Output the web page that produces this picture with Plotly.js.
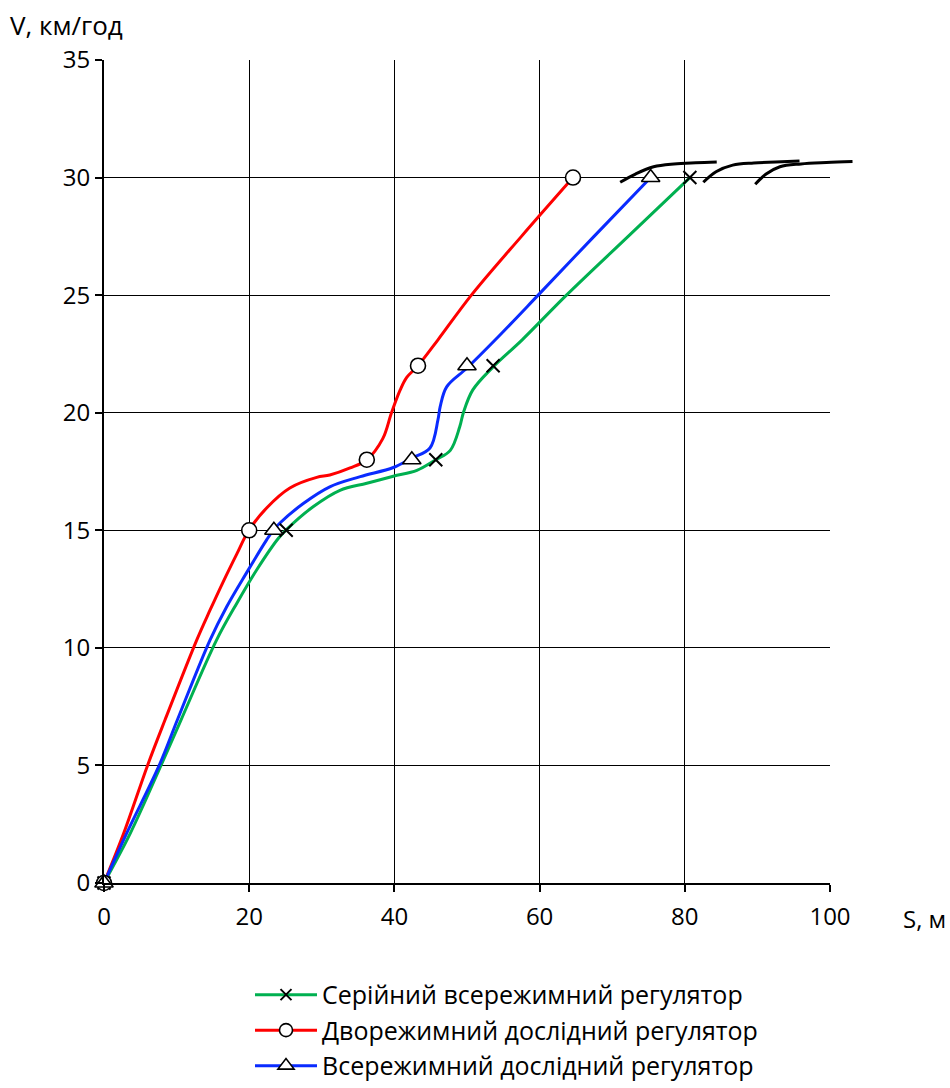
<!DOCTYPE html>
<html>
<head>
<meta charset="utf-8">
<script src="https://cdn.plot.ly/plotly-3.0.1.min.js"></script>
<style>body{margin:0;background:#fff;} #chart{width:950px;height:1088px;}</style>
</head>
<body>
<div id="chart"></div>
<script>
// ---- data ----
const seriesNames = ['Серійний всережимний регулятор', 'Дворежимний дослідний регулятор', 'Всережимний дослідний регулятор'];

// curve points (S, m ; V, km/h)
const greenS = [0, 3.6, 7.85, 10.6, 15.5, 18.3, 21.0, 24.0, 25.2, 28.8, 32.5, 36.2, 39.85, 43.1, 45.7, 47.7, 49.0, 49.5, 50.8, 53.6, 57.6, 63.7, 72.2, 80.7];
const greenV = [0, 2.1, 5.0, 6.93, 10.33, 11.9, 13.3, 14.65, 15.05, 16.0, 16.7, 17.0, 17.3, 17.55, 18.0, 18.4, 19.4, 20.0, 20.97, 21.95, 23.1, 25, 27.5, 30];

const redS = [0, 2.7, 6.0, 8.4, 12.77, 14.6, 16.4, 18.3, 19.9, 22.4, 25.6, 29.3, 31.1, 33.9, 36.2, 38.4, 39.6, 40.8, 41.7, 43.25, 46.0, 50.6, 57.5, 64.6];
const redV = [0, 2.1, 5.0, 6.93, 10.33, 11.6, 12.8, 14.0, 14.97, 15.95, 16.8, 17.25, 17.35, 17.65, 18.0, 18.9, 20.0, 20.97, 21.5, 22.0, 23.1, 25, 27.5, 30];

const blueS = [0, 3.1, 7.6, 10.1, 14.6, 16.9, 19.65, 22.4, 23.3, 24.2, 27.45, 31.1, 35.3, 39.85, 42.4, 44.9, 46.0, 46.3, 47.2, 50.0, 53.9, 59.8, 67.5, 75.3];
const blueV = [0, 2.1, 5.0, 6.93, 10.33, 11.75, 13.2, 14.59, 15.0, 15.3, 16.14, 16.85, 17.28, 17.67, 18.07, 18.5, 19.7, 20.25, 21.1, 21.9, 23.1, 25, 27.5, 30];

// marker points
const greenMarkS = [0, 25.1, 45.7, 53.6, 80.7];
const greenMarkV = [0, 15, 18, 22, 30];
const redMarkS = [0, 20.0, 36.2, 43.25, 64.6];
const redMarkV = [0, 15, 18, 22, 30];
const blueMarkS = [0, 23.4, 42.4, 50.0, 75.3];
const blueMarkV = [0, 15, 18, 22, 30];

// black arcs near V = 30
const arc1S = [71.1, 73.2, 75.7, 78.5, 81.5, 84.4];
const arc1V = [29.8, 30.15, 30.46, 30.58, 30.63, 30.66];
const arc2S = [82.55, 84.3, 86.6, 89.5, 92.5, 95.8];
const arc2V = [29.8, 30.25, 30.53, 30.62, 30.66, 30.7];
const arc3S = [89.7, 91.2, 93.1, 96.0, 99.5, 103.1];
const arc3V = [29.72, 30.15, 30.46, 30.58, 30.64, 30.68];

const xTicks = [0, 20, 40, 60, 80, 100];
const yTicks = [0, 5, 10, 15, 20, 25, 30, 35];

// ---- styles ----
const GREEN = '#00B050', RED = '#FF0000', BLUE = '#0A2BFF';
const LW = 3;
const FONT = 'Open Sans, Liberation Sans, sans-serif';
const mGreen = {symbol: 'x-thin-open', size: 13, color: '#000', line: {color: '#000', width: 2}};
const mRed = {symbol: 'circle', size: 15, color: '#fff', line: {color: '#000', width: 1.6}};
const mBlue = {symbol: 'triangle-up', size: 16, color: '#fff', line: {color: '#000', width: 1.6}};

const X_MAX = 100;
const DOM = 726 / 766;

function curve(x, y, color) {
  return {x: x, y: y, mode: 'lines', line: {color: color, width: LW, shape: 'spline', smoothing: 1}, showlegend: false, hoverinfo: 'skip'};
}
function marks(x, y, m) {
  return {x: x, y: y, mode: 'markers', marker: m, showlegend: false, cliponaxis: false, hoverinfo: 'skip'};
}
function legendItem(name, color, m) {
  return {x: [null], y: [null], mode: 'lines+markers', name: name, line: {color: color, width: LW}, marker: Object.assign({}, m, {size: m.size - 2})};
}
function arc(x, y) {
  return {x: x, y: y, xaxis: 'x2', yaxis: 'y2', mode: 'lines', line: {color: '#000', width: 3, shape: 'spline', smoothing: 1}, showlegend: false, hoverinfo: 'skip'};
}

const data = [
  curve(greenS, greenV, GREEN),
  curve(redS, redV, RED),
  curve(blueS, blueV, BLUE),
  marks(greenMarkS, greenMarkV, mGreen),
  marks(redMarkS, redMarkV, mRed),
  marks(blueMarkS, blueMarkV, mBlue),
  arc(arc1S, arc1V),
  arc(arc2S, arc2V),
  arc(arc3S, arc3V),
  legendItem(seriesNames[0], GREEN, mGreen),
  legendItem(seriesNames[1], RED, mRed),
  legendItem(seriesNames[2], BLUE, mBlue)
];

const tickFont = {family: FONT, size: 24, color: '#000'};

const layout = {
  width: 950, height: 1088,
  margin: {l: 104, r: 80, t: 60, b: 205, autoexpand: false},
  paper_bgcolor: '#fff', plot_bgcolor: 'rgba(0,0,0,0)',
  font: {family: FONT, color: '#000'},
  xaxis: {
    domain: [0, DOM], range: [0, X_MAX], tickvals: xTicks, ticktext: xTicks.map(String),
    showgrid: true, gridcolor: '#000', gridwidth: 1, zeroline: false,
    showline: true, linecolor: '#000', linewidth: 2,
    ticks: 'outside', ticklen: 7, tickwidth: 2, tickcolor: '#000', tickfont: tickFont,
    ticklabelstandoff: 4, fixedrange: true
  },
  yaxis: {
    domain: [0, 1], range: [0, 35], tickvals: yTicks, ticktext: yTicks.map(String),
    showgrid: true, gridcolor: '#000', gridwidth: 1, zeroline: false,
    showline: true, linecolor: '#000', linewidth: 2,
    ticks: 'outside', ticklen: 7, tickwidth: 2, tickcolor: '#000', tickfont: tickFont,
    fixedrange: true
  },
  xaxis2: {domain: [0, 1], range: [0, X_MAX / DOM], anchor: 'y2', visible: false, fixedrange: true},
  yaxis2: {domain: [0, 1], range: [0, 35], anchor: 'x2', visible: false, fixedrange: true},
  showlegend: true,
  legend: {
    x: (250 - 104) / 766, xanchor: 'left', y: -0.108, yanchor: 'top',
    font: {family: FONT, size: 25, color: '#000'},
    itemwidth: 62, bgcolor: 'rgba(0,0,0,0)', traceorder: 'normal'
  },
  annotations: [
    {text: 'V, км/год', xref: 'paper', yref: 'paper', x: (8 - 104) / 766, y: (883 - 25) / 823,
     xanchor: 'left', yanchor: 'middle', showarrow: false, font: {family: FONT, size: 26, color: '#000'}},
    {text: 'S, м', xref: 'paper', yref: 'paper', x: (948 - 104) / 766, y: (883 - 918) / 823,
     xanchor: 'right', yanchor: 'middle', showarrow: false, font: {family: FONT, size: 24, color: '#000'}}
  ]
};

Plotly.newPlot('chart', data, layout, {displayModeBar: false, staticPlot: true});
</script>
</body>
</html>
